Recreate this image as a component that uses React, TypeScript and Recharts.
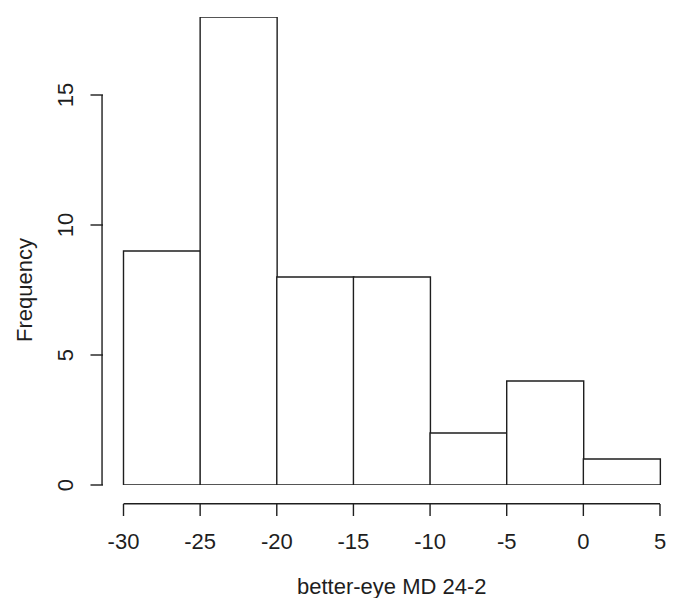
import React from 'react';
import { BarChart, Bar, XAxis, YAxis, ReferenceLine } from 'recharts';

const binStarts = [-30, -25, -20, -15, -10, -5, 0];
const counts = [9, 18, 8, 8, 2, 4, 1];
const xTicks = [-30, -25, -20, -15, -10, -5, 0, 5];
const yTicks = [0, 5, 10, 15];
const xDomain: [number, number] = [-30, 5];
const yDomain: [number, number] = [0, 18];
const xTitle = 'better-eye MD 24-2';
const yTitle = 'Frequency';

const data = binStarts.map((s, i) => ({ bin: String(s), mid: s + 2.5, freq: counts[i] }));

// R extends the axis range by 4% on each side; axes sit at the extended limits
const EXT = 0.04;
const xAxisAt = xDomain[0] - EXT * (xDomain[1] - xDomain[0]);
const yAxisAt = yDomain[0] - EXT * (yDomain[1] - yDomain[0]);

const FONT = '"Liberation Sans", Arial, sans-serif';
const FS = 22;
const INK = '#1e1e1e';
const SW = 1.4;

const XTick = (props: any) => {
  const { x, y, payload } = props;
  return (
    <g>
      <line x1={x} x2={x} y1={y + 19} y2={y + 31} stroke={INK} strokeWidth={SW} />
      <text x={x} y={y + 56} dy="0.35em" textAnchor="middle" fontFamily={FONT} fontSize={FS} fill={INK}>
        {payload.value}
      </text>
    </g>
  );
};

const YTick = (props: any) => {
  const { x, y, payload } = props;
  const tx = x - 58;
  return (
    <g>
      <line x1={x - 20.5} x2={x - 33} y1={y} y2={y} stroke={INK} strokeWidth={SW} />
      <text x={tx} y={y} dy="0.35em" textAnchor="middle" transform={`rotate(-90, ${tx}, ${y})`} fontFamily={FONT} fontSize={FS} fill={INK}>
        {payload.value}
      </text>
    </g>
  );
};

const XTitle = () => (
  <text x={391.75} y={586} dy="0.35em" textAnchor="middle" fontFamily={FONT} fontSize={FS} fill={INK}>
    {xTitle}
  </text>
);

const YTitle = () => (
  <text x={24} y={290} dy="0.35em" textAnchor="middle" transform="rotate(-90, 24, 290)" fontFamily={FONT} fontSize={FS} fill={INK}>
    {yTitle}
  </text>
);

export default function App() {
  return (
    <div style={{ position: 'absolute', left: 0, top: 0, background: '#fff' }}>
      <BarChart
        width={675}
        height={598}
        data={data}
        margin={{ top: 17, right: 15, bottom: 0, left: 0 }}
        barCategoryGap={0}
        barGap={0}
      >
        <XAxis xAxisId="cat" dataKey="bin" type="category" hide height={0} />
        <XAxis
          xAxisId="num"
          dataKey="mid"
          type="number"
          domain={xDomain}
          ticks={xTicks}
          allowDataOverflow
          height={113}
          axisLine={false}
          tickLine={false}
          tickSize={0}
          tickMargin={0}
          tick={<XTick />}
          interval={0}
          label={{ content: () => <XTitle /> }}
        />
        <YAxis
          domain={yDomain}
          ticks={yTicks}
          allowDataOverflow
          width={123.5}
          axisLine={false}
          tickLine={false}
          tickSize={0}
          tickMargin={0}
          tick={<YTick />}
          interval={0}
          label={{ content: () => <YTitle /> }}
        />
        <Bar xAxisId="cat" dataKey="freq" fill="#ffffff" stroke={INK} strokeWidth={SW} isAnimationActive={false} />
        <ReferenceLine
          xAxisId="num"
          segment={[{ x: xDomain[0], y: yAxisAt }, { x: xDomain[1], y: yAxisAt }]}
          stroke={INK}
          strokeWidth={SW}
          ifOverflow="visible"
        />
        <ReferenceLine
          xAxisId="num"
          segment={[{ x: xAxisAt, y: yTicks[0] }, { x: xAxisAt, y: yTicks[yTicks.length - 1] }]}
          stroke={INK}
          strokeWidth={SW}
          ifOverflow="visible"
        />
      </BarChart>
    </div>
  );
}
